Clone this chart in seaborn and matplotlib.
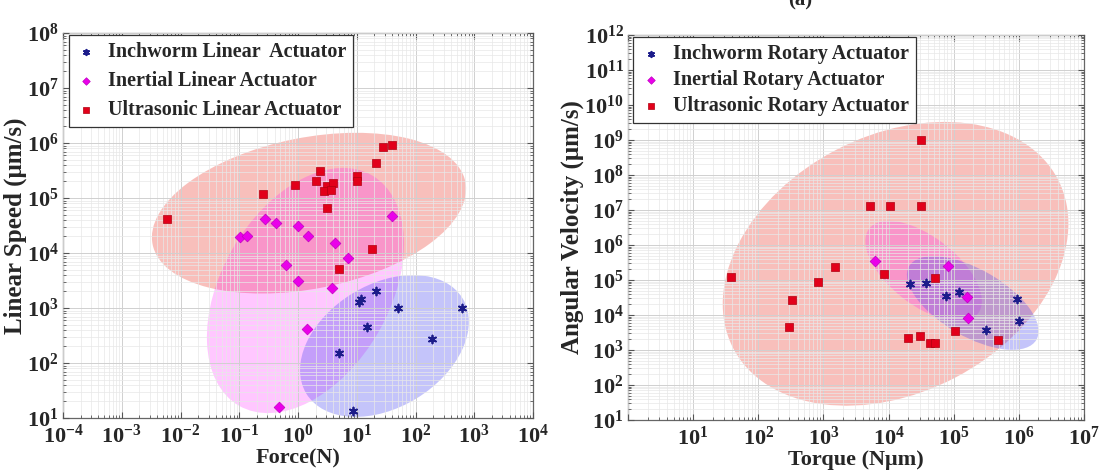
import numpy as np
import matplotlib
matplotlib.use("Agg")
import matplotlib.pyplot as plt
import seaborn as sns
from matplotlib.patches import Ellipse
from matplotlib.transforms import ScaledTranslation
from matplotlib.ticker import LogLocator, FuncFormatter, NullFormatter

# ---------------- linear actuators: force (N) vs linear speed (um/s) ----------------
inchworm_lin_force = [21.3, 11.8, 10.9, 50, 618, 14.9, 191, 5.0, 8.6]
inchworm_lin_speed = [2040, 1450, 1280, 1000, 1000, 450, 273, 152, 13.4]

inertial_lin_force = [0.274, 0.42, 0.103, 0.135, 1.0, 1.48, 4.26, 7.1, 0.625, 1.0,
                      3.79, 1.42, 0.475, 39.8]
inertial_lin_speed = [4.2e4, 3.5e4, 1.96e4, 2.0e4, 3.1e4, 2.0e4, 1.5e4, 8.1e3, 6.0e3,
                      3.1e3, 2.3e3, 415, 15.8, 4.7e4]

ultra_lin_force = [0.0059, 0.254, 0.89, 2.37, 2.02, 3.1, 3.94, 2.77, 3.65, 10.1, 10.1,
                   3.1, 21.3, 28, 39.8, 5.0, 18.2]
ultra_lin_speed = [4.15e4, 1.18e5, 1.72e5, 3.1e5, 2.05e5, 1.65e5, 1.87e5, 1.34e5, 1.4e5,
                   2.5e5, 2.05e5, 6.6e4, 4.3e5, 8.5e5, 9.2e5, 5.1e3, 1.18e4]

# ---------------- rotary actuators: torque (N um) vs angular velocity ----------------
inchworm_rot_torque = [2.1e4, 3.8e4, 7.5e4, 1.19e5, 9.3e5, 1.0e6, 3.1e5]
inchworm_rot_vel = [7.7e4, 8.2e4, 3.5e4, 4.5e4, 2.9e4, 6.7e3, 3.7e3]

inertial_rot_torque = [6.1e3, 8.1e4, 1.59e5, 1.64e5]
inertial_rot_vel = [3.5e5, 2.5e5, 3.3e4, 8.2e3]

ultra_rot_torque = [38, 1530, 838, 333, 300, 8.4e3, 5.1e4, 2.0e4, 3.0e4, 4.3e4, 5.1e4,
                    1.04e5, 4.75e5, 3.1e4, 5.1e3, 1.04e4, 3.1e4]
ultra_rot_vel = [1.2e5, 2.36e5, 8.7e4, 2.7e4, 4.6e3, 1.48e5, 1.15e5, 2.2e3, 2.5e3, 1.6e3,
                 1.6e3, 3.5e3, 1.9e3, 1e9, 1.3e7, 1.3e7, 1.3e7]

# Region ellipses: centre (data units), full width / height (inches), tilt (deg)
lin_regions = {
    "ultra":    (1.54, 5.3e4, 3.19, 1.51, 11.3),
    "inertial": (1.34, 2080, 2.66, 1.68, 60.0),
    "inchworm": (29.6, 204, 1.83, 1.23, 31.4),
}
rot_regions = {
    "ultra":    (1.28e4, 2.9e5, 3.66, 2.57, 27.5),
    "inertial": (3.45e4, 1.8e5, 1.38, 0.68, -38.0),
    "inchworm": (1.96e5, 2.2e4, 1.47, 0.67, -30.0),
}

fills = {"ultra": ((0.93, 0.27, 0.22), 0.34),
         "inertial": ((1.0, 0.0, 1.0), 0.22),
         "inchworm": ((0.30, 0.30, 0.95), 0.33)}

sns.set_style("ticks")
plt.rcParams["font.family"] = ["Liberation Serif", "DejaVu Serif"]
plt.rcParams["font.weight"] = "bold"
plt.rcParams["mathtext.fontset"] = "custom"
plt.rcParams["mathtext.rm"] = "Liberation Serif:bold"
plt.rcParams["mathtext.bf"] = "Liberation Serif:bold"
plt.rcParams["mathtext.it"] = "Liberation Serif:italic:bold"

fig = plt.figure(figsize=(11, 4.7), dpi=100)
ax1 = fig.add_axes([63 / 1100, 1 - 418 / 470, 470 / 1100, 385 / 470])
ax2 = fig.add_axes([628 / 1100, 1 - 420 / 470, 456 / 1100, 385 / 470])


def decade_label(v, _pos, skip=()):
    n = int(round(np.log10(v)))
    if n in skip:
        return ""
    return r"$10^{%d}$" % n


def style_axes(ax, xlim, ylim, xskip=()):
    ax.set_xscale("log")
    ax.set_yscale("log")
    ax.set_xlim(*xlim)
    ax.set_ylim(*ylim)
    for axis in (ax.xaxis, ax.yaxis):
        axis.set_major_locator(LogLocator(base=10, numticks=30))
        axis.set_minor_locator(LogLocator(base=10, subs=np.arange(2, 10), numticks=300))
        axis.set_minor_formatter(NullFormatter())
    ax.xaxis.set_major_formatter(FuncFormatter(lambda v, p: decade_label(v, p, xskip)))
    ax.yaxis.set_major_formatter(FuncFormatter(decade_label))
    ax.set_axisbelow(False)
    ax.grid(which="major", color="#d0d0d0", lw=0.7, zorder=1.5)
    ax.grid(which="minor", color="#e8e8e8", lw=0.5, zorder=1.5)
    ax.tick_params(which="both", direction="in", top=True, right=True, color="#555555")
    ax.tick_params(which="major", length=4, width=0.8, labelsize=16)
    ax.tick_params(axis="y", which="major", pad=3)
    ax.tick_params(axis="x", which="major", pad=5)
    ax.tick_params(which="minor", length=2, width=0.6)
    for sp in ax.spines.values():
        sp.set_color("#666666")
        sp.set_linewidth(0.9)


def draw_regions(ax, regions):
    for key in ("ultra", "inertial", "inchworm"):
        cx, cy, w, h, ang = regions[key]
        col, a = fills[key]
        trans = fig.dpi_scale_trans + ScaledTranslation(cx, cy, ax.transData)
        ax.add_patch(Ellipse((0, 0), w, h, angle=ang, transform=trans,
                             facecolor=col, alpha=a, edgecolor="none", zorder=1))


def draw_points(ax, series):
    for x, y, kind, label in series:
        if kind == "inchworm":
            sns.scatterplot(x=x, y=y, ax=ax, marker=(6, 2, 0), s=32, color="#1c1c8a",
                            linewidth=1.3, label=label, zorder=3)
        elif kind == "inertial":
            sns.scatterplot(x=x, y=y, ax=ax, marker="D", s=30, color="#ea00ea",
                            edgecolor="#c000c0", linewidth=0.5, label=label, zorder=3)
        else:
            sns.scatterplot(x=x, y=y, ax=ax, marker="s", s=30, color="#e2001a",
                            edgecolor="#b00010", linewidth=0.5, label=label, zorder=3)


style_axes(ax1, (1e-4, 1e4), (1e1, 1e8))
style_axes(ax2, (1e0, 1e7), (1e1, 1e12), xskip=(0,))

draw_regions(ax1, lin_regions)
draw_regions(ax2, rot_regions)

draw_points(ax1, [
    (inchworm_lin_force, inchworm_lin_speed, "inchworm", "Inchworm Linear  Actuator"),
    (inertial_lin_force, inertial_lin_speed, "inertial", "Inertial Linear Actuator"),
    (ultra_lin_force, ultra_lin_speed, "ultra", "Ultrasonic Linear Actuator"),
])
draw_points(ax2, [
    (inchworm_rot_torque, inchworm_rot_vel, "inchworm", "Inchworm Rotary Actuator"),
    (inertial_rot_torque, inertial_rot_vel, "inertial", "Inertial Rotary Actuator"),
    (ultra_rot_torque, ultra_rot_vel, "ultra", "Ultrasonic Rotary Actuator"),
])

for ax, spacing in ((ax1, 0.45), (ax2, 0.30)):
    leg = ax.legend(loc="upper left", bbox_to_anchor=(0.012, 0.995), borderaxespad=0,
                    fancybox=False, edgecolor="#333333", framealpha=1,
                    prop={"family": "Liberation Serif", "weight": "bold", "size": 14.5},
                    handlelength=1.0, handletextpad=0.6, labelspacing=spacing,
                    borderpad=0.35, markerscale=0.7)
    leg.get_frame().set_linewidth(0.9)
    leg.set_zorder(5)

ax1.set_xlabel("Force(N)", fontsize=16, fontweight="bold", labelpad=0)
ax1.set_ylabel("Linear Speed (μm/s)", fontsize=18, fontweight="bold", labelpad=0)
ax2.set_xlabel("Torque (Nμm)", fontsize=16, fontweight="bold", labelpad=0)
ax2.set_ylabel("Angular Velocity (μm/s)", fontsize=18, fontweight="bold", labelpad=0)

fig.text(0.727, 1.0, "(a)", ha="center", va="center", fontsize=15, fontweight="bold")

fig.savefig("out.png", dpi=100, facecolor="white")
